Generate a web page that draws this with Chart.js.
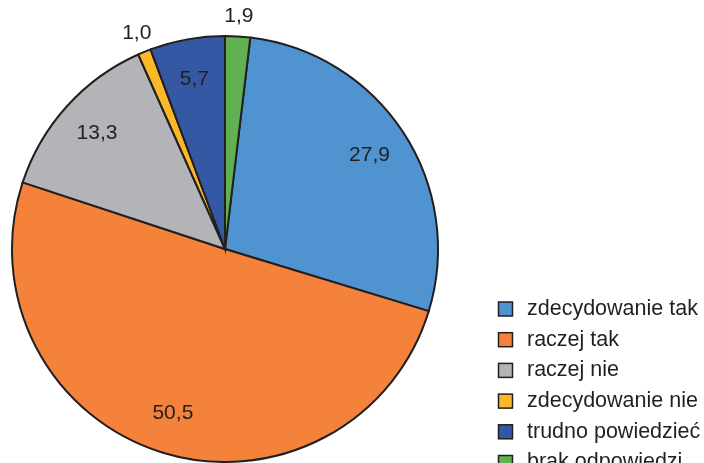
<!DOCTYPE html>
<html>
<head>
<meta charset="utf-8">
<script src="https://cdn.jsdelivr.net/npm/chart.js@4"></script>
<style>
html, body { margin: 0; padding: 0; background: #ffffff; }
#wrap { position: relative; width: 704px; height: 463px; overflow: hidden; }
</style>
</head>
<body>
<div id="wrap"><canvas id="pieChart"></canvas></div>
<script>
const categories = ["zdecydowanie tak", "raczej tak", "raczej nie", "zdecydowanie nie", "trudno powiedzieć", "brak odpowiedzi"];
const values = [27.9, 50.5, 13.3, 1.0, 5.7, 1.9];
const valueLabels = ["27,9", "50,5", "13,3", "1,0", "5,7", "1,9"];
const colors = ["#4f94d1", "#f5823b", "#b3b4b8", "#fbb929", "#3458a3", "#5fb151"];

const inkColor = "#231f20";
const fontFamily = "'Liberation Sans', Arial, sans-serif";

// green slice sits just right of 12 o'clock, so start after it
const total = values.reduce((a, b) => a + b, 0);
const startRotation = values[values.length - 1] / total * 360;

const valueLabelPlugin = {
id: "valueLabels",
afterDatasetsDraw(chart) {
const ctx = chart.ctx;
const meta = chart.getDatasetMeta(0);
ctx.save();
ctx.font = "21px " + fontFamily;
ctx.fillStyle = inkColor;
ctx.textAlign = "center";
ctx.textBaseline = "middle";
meta.data.forEach((arc, i) => {
const mid = (arc.startAngle + arc.endAngle) / 2;
const small = values[i] / total < 0.025;
const r = small ? arc.outerRadius + 20 : arc.outerRadius * 0.81;
const x = arc.x + Math.cos(mid) * r;
const y = arc.y + Math.sin(mid) * r;
ctx.fillText(valueLabels[i], x, y);
});
ctx.restore();
}
};

const sideLegendPlugin = {
id: "sideLegend",
afterDraw(chart) {
const ctx = chart.ctx;
ctx.save();
ctx.font = "21.5px " + fontFamily;
ctx.textAlign = "left";
ctx.textBaseline = "middle";
for (let i = 0; i < categories.length; i++) {
const cy = 309 + i * 30.7;
ctx.fillStyle = colors[i];
ctx.fillRect(498.5, cy - 7, 14, 14);
ctx.strokeStyle = inkColor;
ctx.lineWidth = 1.5;
ctx.strokeRect(498.5, cy - 7, 14, 14);
ctx.fillStyle = inkColor;
ctx.fillText(categories[i], 527, cy);
}
ctx.restore();
}
};

new Chart(document.getElementById("pieChart"), {
type: "pie",
data: {
labels: categories,
datasets: [
{
data: values,
backgroundColor: colors,
borderColor: inkColor,
borderWidth: 2,
borderJoinStyle: "miter"
}
]
},
options: {
responsive: true,
maintainAspectRatio: false,
animation: false,
rotation: startRotation,
layout: {
padding: { left: 11, right: 265, top: 35, bottom: 0 }
},
plugins: {
legend: { display: false },
tooltip: { enabled: false }
}
},
plugins: [valueLabelPlugin, sideLegendPlugin]
});
</script>
</body>
</html>
